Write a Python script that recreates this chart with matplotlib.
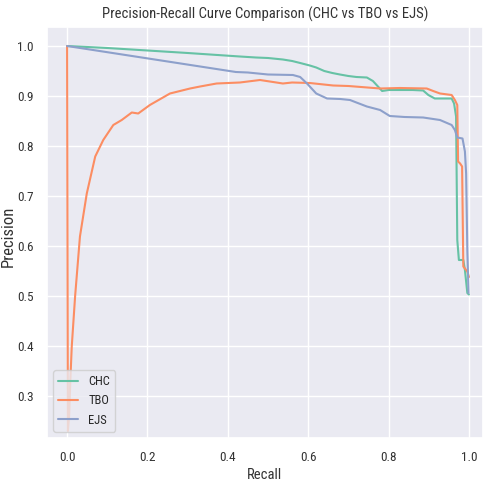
import matplotlib
matplotlib.use("Agg")
import matplotlib.pyplot as plt
from matplotlib import font_manager
import seaborn as sns

# CHC curve (recall, precision)
chc_recall = [0.0, 0.10, 0.20, 0.30, 0.43, 0.47, 0.50, 0.537, 0.56, 0.58, 0.604, 0.62, 0.64,
              0.66, 0.679, 0.70, 0.72, 0.746, 0.761, 0.784, 0.80, 0.828, 0.86, 0.886, 0.899,
              0.915, 0.94, 0.957, 0.963, 0.968, 0.971, 0.975, 0.986, 0.99, 0.996, 1.0]
chc_precision = [1.0, 0.996, 0.991, 0.986, 0.979, 0.977, 0.976, 0.973, 0.970, 0.966, 0.961, 0.957, 0.950,
                 0.946, 0.943, 0.940, 0.938, 0.937, 0.930, 0.910, 0.912, 0.912, 0.912, 0.911, 0.902,
                 0.895, 0.895, 0.895, 0.885, 0.859, 0.612, 0.572, 0.572, 0.552, 0.506, 0.503]

# TBO curve
tbo_recall = [0.0, 0.002, 0.005, 0.008, 0.0116, 0.02, 0.032, 0.049, 0.07, 0.09, 0.115, 0.136,
              0.161, 0.177, 0.206, 0.256, 0.306, 0.331, 0.372, 0.43, 0.48, 0.537, 0.56, 0.604,
              0.662, 0.70, 0.779, 0.828, 0.895, 0.911, 0.928, 0.957, 0.965, 0.971, 0.973, 0.978,
              0.983, 0.986, 0.996, 1.0]
tbo_precision = [1.0, 0.23, 0.26, 0.33, 0.399, 0.50, 0.619, 0.705, 0.779, 0.812, 0.842, 0.852,
                 0.867, 0.865, 0.882, 0.905, 0.915, 0.919, 0.925, 0.927, 0.932, 0.925, 0.927, 0.926,
                 0.921, 0.920, 0.915, 0.916, 0.915, 0.910, 0.905, 0.902, 0.892, 0.882, 0.769, 0.765,
                 0.759, 0.559, 0.549, 0.538]

# EJS curve
ejs_recall = [0.0, 0.42, 0.45, 0.50, 0.562, 0.58, 0.597, 0.62, 0.647, 0.68, 0.704, 0.72, 0.746,
              0.779, 0.803, 0.84, 0.886, 0.928, 0.957, 0.965, 0.971, 0.984, 0.99, 0.993, 0.996, 0.999]
ejs_precision = [1.0, 0.948, 0.947, 0.943, 0.942, 0.938, 0.925, 0.905, 0.895, 0.894, 0.892, 0.887, 0.879,
                 0.872, 0.860, 0.858, 0.857, 0.852, 0.842, 0.832, 0.817, 0.815, 0.789, 0.745, 0.592, 0.506]

labels = ["CHC", "TBO", "EJS"]

sns.set_theme(style="darkgrid")
# the reference text looks horizontally squeezed, so prefer a condensed face
names = {f.name for f in font_manager.fontManager.ttflist}
font = "DejaVu Sans"
for cand in ["DejaVu Sans Condensed", "Liberation Sans Narrow", "Roboto Condensed", "Archivo Narrow", "Asap Condensed"]:
    if cand in names:
        font = cand
        break
plt.rcParams["font.family"] = [font, "DejaVu Sans"]

colors = sns.color_palette("Set2", 3)

fig = plt.figure(figsize=(4.84, 4.84), dpi=100)
ax = fig.add_axes([47 / 484, 46 / 484, 436 / 484, 411 / 484])

ax.plot(chc_recall, chc_precision, color=colors[0], lw=1.5, label=labels[0])
ax.plot(tbo_recall, tbo_precision, color=colors[1], lw=1.5, label=labels[1])
ax.plot(ejs_recall, ejs_precision, color=colors[2], lw=1.5, label=labels[2])

ax.set_xlim(-0.05, 1.035)
ax.set_ylim(0.216, 1.038)
ax.set_title("Precision-Recall Curve Comparison (CHC vs TBO vs EJS)", fontsize=10.5, color="#333333")
ax.set_xlabel("Recall", fontsize=10.5, color="#333333", labelpad=3)
ax.set_ylabel("Precision", fontsize=12, color="#333333")
ax.yaxis.set_label_coords(-0.072, 0.49)
ax.tick_params(labelsize=9.5, colors="#333333")
ax.legend(loc="lower left", fontsize=9, handlelength=1.6)

fig.savefig("out.png", dpi=100)
